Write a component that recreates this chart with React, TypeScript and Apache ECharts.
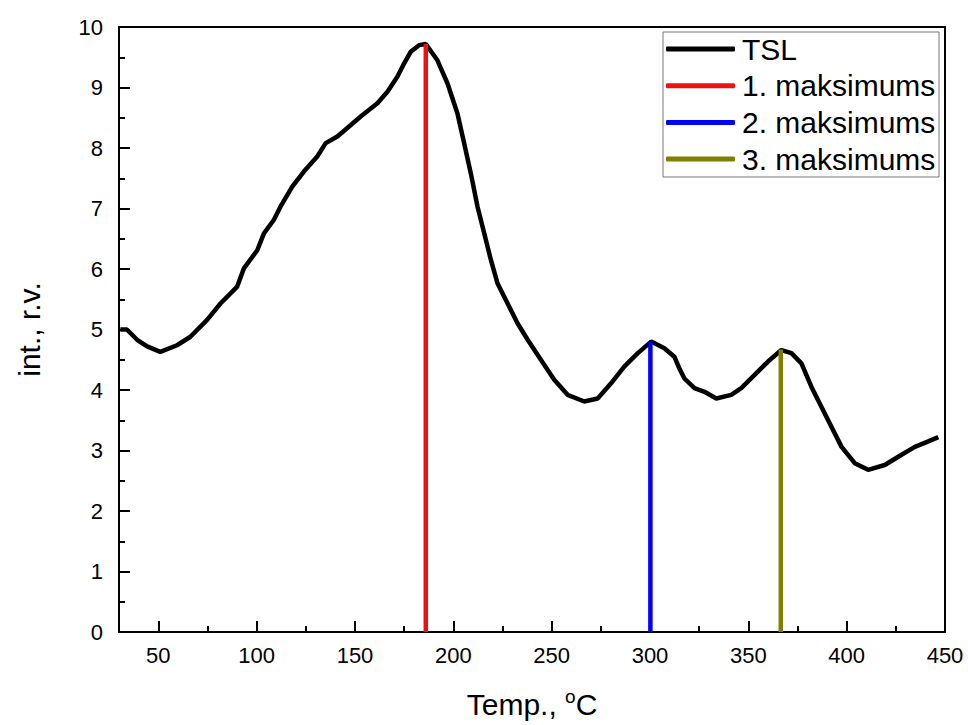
import React, { useEffect, useRef } from "react";
import * as echarts from "echarts";

const tslTemp = [30.7, 34, 39.2, 44.3, 51, 59.5, 66.3, 74.8, 81.6, 90.1, 93.5, 100.3, 103.7, 108.7, 112.1, 118.1, 124, 130.8, 135.1, 141, 146.1, 152.9, 161.4, 166.5, 171.6, 175, 178.3, 182.6, 186, 191.9, 197, 202.1, 205.5, 208.9, 212.3, 215.7, 219.1, 222.5, 227.6, 232.7, 237.8, 244.5, 251.3, 258.1, 266.6, 273.4, 280.2, 287, 293.8, 300.6, 307.3, 312.4, 315, 317.5, 322.6, 327.7, 333.7, 341.3, 346.4, 353.2, 360, 366.8, 371.9, 377, 382.1, 387.2, 392.3, 397.4, 404.1, 410.9, 419.4, 427.9, 434.7, 441.5, 446.6];
const tslInt = [5.0, 5.0, 4.83, 4.72, 4.63, 4.74, 4.88, 5.16, 5.43, 5.71, 6.01, 6.31, 6.59, 6.81, 7.03, 7.36, 7.61, 7.86, 8.08, 8.19, 8.33, 8.52, 8.74, 8.93, 9.18, 9.4, 9.59, 9.7, 9.72, 9.45, 9.07, 8.57, 8.08, 7.58, 7.03, 6.59, 6.15, 5.76, 5.43, 5.1, 4.83, 4.5, 4.17, 3.92, 3.81, 3.86, 4.11, 4.39, 4.61, 4.8, 4.69, 4.55, 4.35, 4.19, 4.03, 3.97, 3.86, 3.92, 4.03, 4.25, 4.47, 4.66, 4.61, 4.44, 4.05, 3.72, 3.39, 3.06, 2.79, 2.68, 2.76, 2.93, 3.06, 3.15, 3.22];

const peakNames = ["1. maksimums", "2. maksimums", "3. maksimums"];
const peakTemps = [186, 300.2, 366.5];
const peakInts = [9.72, 4.8, 4.67];
const peakColors = ["#ee1111", "#0000ff", "#808000"];

const xTicksLabelHiddenAt = 30;
const FONT = "Arial, 'Liberation Sans', sans-serif";

export default function App() {
  const ref = useRef<HTMLDivElement>(null);
  useEffect(() => {
    if (!ref.current) return;
    const chart = echarts.init(ref.current, null, { renderer: "svg" });
    const axisLineStyle = { color: "#000", width: 2 };
    const option: any = {
      animation: false,
      textStyle: { fontFamily: FONT },
      grid: { left: 119, top: 27, width: 826, height: 605, show: true, borderColor: "#000", borderWidth: 2, containLabel: false },
      legend: {
        orient: "vertical",
        left: 666,
        top: 34,
        padding: 0,
        itemWidth: 69,
        itemHeight: 5,
        itemGap: 6.7,
        itemStyle: { borderWidth: 0 },
        icon: "roundRect",
        textStyle: { fontSize: 30, lineHeight: 30, color: "#000", fontFamily: FONT, padding: [0, 0, 0, 2] },
        data: ["TSL", ...peakNames],
      },
      graphic: [
        { type: "rect", shape: { x: 663, y: 32, width: 276, height: 145 }, style: { fill: "none", stroke: "#777", lineWidth: 1 }, z: 100 },
      ],
      xAxis: [
        {
          type: "value",
          min: 30,
          max: 450,
          minInterval: 50,
          maxInterval: 50,
          splitNumber: 8,
          name: "Temp., {sup|o}C",
          nameLocation: "middle",
          nameGap: 55,
          nameTextStyle: {
            fontSize: 30,
            color: "#000",
            fontFamily: FONT,
            rich: { sup: { fontSize: 19, verticalAlign: "top", padding: [0, 0, 15, 0], color: "#000", fontFamily: FONT } },
          },
          axisLine: { lineStyle: axisLineStyle },
          axisTick: { inside: true, length: 11, lineStyle: axisLineStyle },
          minorTick: { show: false },
          splitLine: { show: false },
          axisLabel: {
            color: "#000",
            fontSize: 22,
            margin: 12,
            fontFamily: FONT,
            formatter: (v: number) => (v === xTicksLabelHiddenAt ? "" : String(v)),
          },
        },
        {
          type: "value",
          min: 30,
          max: 450,
          minInterval: 25,
          maxInterval: 25,
          splitNumber: 17,
          position: "bottom",
          axisLine: { show: false },
          axisTick: { inside: true, length: 6, lineStyle: axisLineStyle },
          axisLabel: { show: false },
          splitLine: { show: false },
        },
      ],
      yAxis: {
        type: "value",
        min: 0,
        max: 10,
        interval: 1,
        name: "int., r.v.",
        nameLocation: "middle",
        nameGap: 75,
        nameTextStyle: { fontSize: 30, color: "#000", fontFamily: FONT },
        axisLine: { lineStyle: axisLineStyle },
        axisTick: { inside: true, length: 11, lineStyle: axisLineStyle },
        minorTick: { show: true, splitNumber: 2, length: 6, lineStyle: axisLineStyle },
        splitLine: { show: false },
        axisLabel: { color: "#000", fontSize: 22, margin: 16, fontFamily: FONT },
      },
      series: [
        {
          name: "TSL",
          type: "line",
          showSymbol: false,
          symbol: "none",
          smooth: false,
          color: "#000",
          lineStyle: { color: "#000", width: 4.5 },
          data: tslTemp.map((t, i) => [t, tslInt[i]]),
        },
        ...peakNames.map((n, i) => ({
          name: n,
          type: "line",
          symbol: "none",
          color: peakColors[i],
          lineStyle: { color: peakColors[i], width: 4.5 },
          data: [
            [peakTemps[i], 0],
            [peakTemps[i], peakInts[i]],
          ],
        })),
      ],
    };
    chart.setOption(option);
    return () => chart.dispose();
  }, []);
  return <div ref={ref} style={{ position: "absolute", left: 0, top: 0, width: 968, height: 725 }} />;
}
